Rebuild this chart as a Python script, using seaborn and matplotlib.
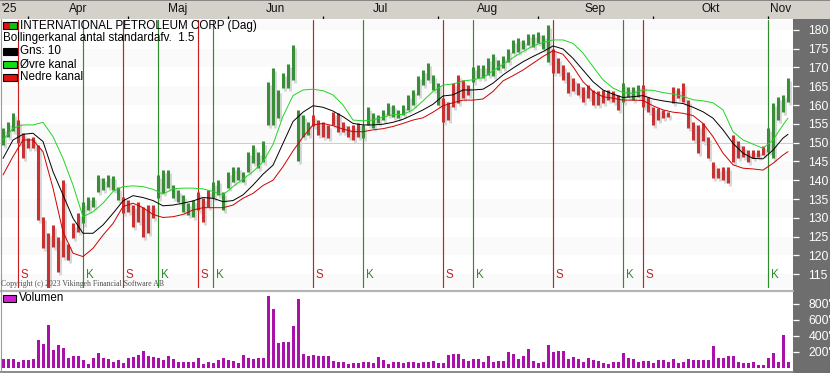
import matplotlib
matplotlib.use("Agg")
import matplotlib.pyplot as plt
import seaborn as sns
import pandas as pd
from matplotlib.patches import Rectangle
from matplotlib.transforms import blended_transform_factory

# ---------------- data ----------------
high = [154.0, 155.5, 158.0, 156.0, 152.5, 151.2, 151.6, 149.4, 130.3, 125.9,
        128.0, 125.0, 140.0, 123.0, 128.5, 131.2, 134.3, 135.6, 135.6, 141.4,
        140.5, 141.4, 141.1, 138.3, 135.6, 134.7, 133.4, 134.3, 133.0, 133.4,
        133.4, 141.4, 142.7, 142.7, 138.7, 137.4, 136.0, 133.9, 134.7, 137.0,
        135.2, 137.4, 139.6, 140.0, 137.0, 142.3, 143.6, 143.6, 142.3, 147.6,
        149.4, 147.6, 150.3, 166.2, 169.8, 164.0, 168.4, 171.0, 176.0, 158.7,
        157.4, 155.6, 157.4, 156.0, 155.6, 154.7, 158.2, 157.8, 155.6, 154.3,
        154.7, 155.1, 154.7, 159.6, 157.8, 157.4, 158.7, 160.5, 160.0, 158.7,
        160.0, 162.7, 164.0, 167.6, 169.3, 171.1, 168.0, 165.8, 161.8, 160.9,
        165.8, 168.0, 166.7, 165.3, 170.2, 170.7, 170.7, 172.4, 173.5, 172.0,
        172.9, 175.0, 177.3, 177.7, 177.3, 179.0, 179.0, 179.5, 178.6, 181.3,
        175.0, 172.4, 170.7, 168.9, 167.1, 165.8, 164.9, 165.3, 164.0, 163.6,
        164.0, 164.0, 163.6, 162.7, 165.8, 164.9, 164.9, 165.3, 165.3, 162.2,
        159.6, 159.1, 158.7, 158.2, 164.9, 164.5, 165.8, 161.3, 155.6, 154.7,
        155.1, 151.6, 144.9, 143.2, 143.6, 143.6, 152.0, 150.3, 149.0, 148.0,
        148.0, 148.0, 149.0, 153.8, 160.5, 162.2, 162.7, 167.1]
low = [149.5, 151.5, 153.0, 150.0, 145.8, 148.5, 148.5, 129.4, 121.9, 110.8,
       122.3, 115.7, 119.7, 118.8, 124.6, 126.3, 128.5, 132.0, 133.0, 137.0,
       137.4, 138.3, 137.4, 134.7, 131.2, 131.6, 127.7, 129.0, 125.0, 125.9,
       129.9, 135.2, 136.5, 137.9, 135.2, 134.3, 131.6, 130.8, 130.3, 132.1,
       129.0, 133.0, 135.2, 136.1, 132.1, 137.9, 139.6, 140.0, 139.6, 142.3,
       144.5, 143.2, 144.9, 154.7, 154.7, 156.5, 164.5, 164.5, 166.7, 145.0,
       151.6, 152.0, 154.3, 152.0, 151.6, 151.2, 154.7, 152.9, 152.9, 151.6,
       150.7, 151.6, 151.2, 154.7, 153.8, 155.1, 156.0, 157.4, 156.9, 156.5,
       157.4, 158.7, 160.0, 162.7, 165.3, 166.7, 164.0, 160.0, 155.6, 156.0,
       159.6, 160.5, 161.8, 162.7, 166.2, 167.1, 167.1, 168.0, 167.6, 169.3,
       169.8, 171.5, 173.8, 174.2, 175.0, 176.0, 175.5, 176.4, 175.0, 171.5,
       168.4, 168.4, 166.7, 163.1, 163.6, 162.7, 160.9, 161.8, 160.0, 160.0,
       160.5, 161.3, 160.9, 158.7, 160.9, 162.2, 161.3, 162.2, 159.6, 158.2,
       154.7, 156.0, 156.5, 156.9, 160.5, 161.8, 160.9, 153.8, 150.7, 147.2,
       150.3, 145.8, 140.5, 140.5, 140.0, 139.2, 144.9, 145.8, 146.3, 144.9,
       145.8, 146.3, 146.7, 147.6, 145.8, 156.0, 158.2, 160.9]
direction = ("GGG" "RRRRRRRRRRRRR" "GGGGGGGG" "RRRRRRR" "GGGGGGGG" "RRR"
             "GGGGGGGGGGGGGGGGGGGG" "RRRRRRRRRR" "GGGGGGGGGGGGGGGG" "RRRRRR"
             "GGGGGGGGGGGGGGGG" "RRRRRRRRRRRRRR" "GGGG"
             "RRRRRRRRRRRRRRRRRRRRRRRRR" "GGGGG")

volume_k = [112, 112, 112, 79, 100, 100, 112, 350, 300, 537,
            225, 287, 250, 125, 146, 154, 100, 50, 125, 187,
            125, 112, 79, 100, 67, 125, 137, 167, 217, 154,
            137, 125, 100, 146, 112, 79, 79, 79, 79, 125,
            50, 79, 58, 100, 125, 100, 92, 58, 167, 125,
            112, 125, 125, 900, 733, 317, 325, 325, 525, 862,
            175, 146, 167, 154, 154, 154, 87, 79, 79, 50,
            58, 67, 75, 79, 67, 137, 100, 50, 75, 75,
            58, 79, 79, 58, 79, 79, 92, 67, 67, 162,
            175, 175, 112, 87, 108, 108, 79, 146, 79, 87,
            87, 204, 175, 108, 150, 237, 87, 67, 79, 287,
            204, 212, 212, 108, 137, 108, 79, 125, 100, 92,
            67, 50, 79, 79, 192, 125, 108, 79, 87, 87,
            67, 100, 100, 79, 108, 58, 79, 108, 100, 100,
            100, 100, 275, 125, 125, 146, 154, 79, 67, 58,
            79, 42, 33, 125, 192, 79, 412, 79]

band_idx = list(range(0, 157, 2)) + [157]
band_mid = [145.8, 150.7, 152.2, 152.5, 150.3, 142.3, 136.1, 129.9, 125.9, 125.9,
            128.1, 131.2, 134.5, 135.9, 135.4, 134.6, 133.2, 133.4, 133.9, 134.5,
            135.4, 135.2, 134.3, 134.6, 136.1, 138.7, 141.6, 144.0, 149.8, 155.6,
            158.1, 159.8, 159.4, 158.4, 156.9, 155.1, 154.7, 154.7, 154.9, 155.4,
            156.2, 157.4, 158.7, 160.2, 162.4, 162.7, 164.0, 164.0, 164.2, 165.8,
            168.0, 169.8, 171.5, 172.9, 174.2, 175.7, 174.9, 172.4, 169.3, 166.2,
            164.0, 162.9, 162.0, 162.2, 162.5, 161.6, 161.1, 160.7, 160.4, 159.4,
            158.2, 156.5, 153.4, 149.8, 147.2, 145.8, 145.7, 148.0, 151.2, 152.2]
band_upper = [150.7, 153.8, 154.7, 154.7, 155.4, 151.6, 145.8, 138.7, 130.3, 131.6,
              133.9, 137.0, 138.3, 138.5, 138.3, 137.6, 136.3, 137.7, 137.9, 137.9,
              137.7, 137.0, 136.1, 138.3, 140.3, 142.3, 144.9, 149.5, 157.0, 162.5,
              164.0, 164.2, 163.8, 162.7, 160.0, 156.0, 155.8, 156.0, 156.8, 157.4,
              157.5, 158.7, 161.1, 163.6, 165.3, 165.6, 166.4, 166.7, 167.3, 169.1,
              170.8, 172.6, 174.2, 175.7, 176.6, 177.3, 177.3, 176.4, 173.8, 170.2,
              166.7, 164.5, 163.3, 163.1, 164.0, 163.9, 163.3, 162.9, 162.3, 161.4,
              161.1, 160.6, 158.7, 152.9, 150.7, 149.6, 148.5, 150.7, 154.7, 156.5]
band_lower = [141.4, 146.3, 150.7, 150.7, 147.6, 137.9, 126.3, 120.6, 119.7, 121.9,
              125.4, 128.5, 133.0, 133.9, 132.7, 130.9, 130.1, 130.3, 130.9, 132.1,
              132.7, 132.7, 132.7, 133.4, 135.2, 136.5, 138.6, 140.0, 143.6, 147.8,
              151.5, 154.7, 155.1, 154.5, 153.6, 152.9, 152.9, 153.4, 153.7, 154.3,
              155.1, 156.0, 156.6, 158.1, 159.8, 160.6, 161.3, 161.3, 161.6, 163.6,
              166.4, 167.8, 169.3, 171.1, 172.9, 174.4, 173.5, 170.2, 166.2, 163.6,
              162.2, 161.8, 161.3, 161.3, 161.2, 159.8, 158.7, 158.1, 157.8, 157.2,
              155.1, 151.6, 147.2, 144.1, 143.2, 143.0, 142.7, 144.5, 146.7, 147.6]

sell_idx = [3, 24, 39, 62, 88, 110, 128]
buy_idx = [16, 31, 42, 72, 94, 124, 153]

months = ["Apr", "Maj", "Jun", "Jul", "Aug", "Sep", "Okt", "Nov"]
month_start = [5, 25, 45, 64, 87, 107, 130, 153]
year_label = "'25"
price_ticks = [115, 120, 125, 130, 135, 140, 145, 150, 155, 160, 165, 170, 175, 180]
vol_ticks = [200, 400, 600, 800]

title = "INTERNATIONAL PETROLEUM CORP (Dag)"
legend_rows = ["Bollingerkanal antal standardafv.  1.5", "Gns: 10", "\u00d8vre kanal", "Nedre kanal"]

# ---------------- style ----------------
sns.set_style("white")
plt.rcParams["font.family"] = ["Liberation Sans", "DejaVu Sans"]

W, H = 830, 373
fig = plt.figure(figsize=(W / 100, H / 100), dpi=100)
fig.patch.set_facecolor("white")


def rect(x0, y0, x1, y1):
    return [x0 / W, 1 - y1 / H, (x1 - x0) / W, (y1 - y0) / H]


n = len(high)
idx = list(range(n))
XL = (-0.6, 158.0)

GREEN_BAR = "#3a8e3a"
RED_BAR = "#c83232"
PANEL = "#6e6e6e"

# right dark panel (under axes)
fig.patches.append(Rectangle((793 / W, 0), 37 / W, 1 - 19 / H, transform=fig.transFigure,
                             facecolor=PANEL, edgecolor="none", zorder=-5))

# ---------------- header ----------------
axh = fig.add_axes(rect(0, 0, 830, 19))
axh.set_facecolor("#d4d1cb")
axh.set_xlim(XL[0], XL[0] + 830 / 5)
axh.set_ylim(0, 1)
axh.set_xticks([]); axh.set_yticks([])
for s in axh.spines.values():
    s.set_visible(False)
axh.axhline(0.98, color="#7a7a7a", lw=1.2)
axh.vlines(month_start, 0, 0.18, color="black", lw=0.9)
centers = [(month_start[i] + (month_start[i + 1] if i + 1 < len(month_start) else n)) / 2
           for i in range(len(month_start))]
for m, c in zip(months, centers):
    axh.text(c, 0.52, m, ha="center", va="center", fontsize=8.6, color="#111111")
axh.text(-0.3, 0.52, year_label, ha="left", va="center", fontsize=8.6, color="#111111")

# ---------------- price panel ----------------
ax = fig.add_axes(rect(0, 20, 793, 288))
ax.set_facecolor("white")
ax.set_xlim(*XL)
ax.set_ylim(111.35, 182.6)
for b in range(110, 185, 10):
    ax.axhspan(b, b + 5, color="#fafafa", lw=0, zorder=0)
ax.axhline(150, color="#cccccc", lw=0.7, zorder=0.5)

for k in sell_idx:
    ax.axvline(k, color="#c81e1e", lw=0.85, zorder=1)
for k in buy_idx:
    ax.axvline(k, color="#2e8b2e", lw=0.85, zorder=1)

trans = blended_transform_factory(ax.transData, ax.transAxes)
for k in sell_idx:
    ax.text(k + 0.55, 0.025, "S", transform=trans, color="#c81e1e", fontsize=8.3,
            ha="left", va="bottom", zorder=6)
for k in buy_idx:
    ax.text(k + 0.55, 0.025, "K", transform=trans, color="#2e8b2e", fontsize=8.3,
            ha="left", va="bottom", zorder=6)

# shadows then bars
ax.vlines([k + 0.45 for k in idx], [l - 0.8 for l in low], [h - 0.8 for h in high],
          color="#d8d8d8", lw=2.2, zorder=2)
colors = [GREEN_BAR if d == "G" else RED_BAR for d in direction]
ax.vlines(idx, low, high, colors=colors, lw=2.2, zorder=3)

bands = pd.DataFrame({"k": band_idx, "mid": band_mid, "up": band_upper, "lo": band_lower})
sns.lineplot(data=bands, x="k", y="up", ax=ax, color="#22d422", lw=0.7, estimator=None, zorder=4)
sns.lineplot(data=bands, x="k", y="mid", ax=ax, color="black", lw=0.7, estimator=None, zorder=4)
sns.lineplot(data=bands, x="k", y="lo", ax=ax, color="#cc0000", lw=0.7, estimator=None, zorder=4)

ax.set_xlabel(""); ax.set_ylabel("")
ax.set_xticks([])
ax.yaxis.tick_right()
ax.set_yticks(price_ticks)
ax.set_yticklabels([str(t) for t in price_ticks])
ax.tick_params(axis="y", which="both", right=True, left=False, colors="white",
               labelcolor="white", length=4, width=0.9, pad=7, labelsize=8.8, direction="out")
for s in ax.spines.values():
    s.set_visible(False)

# ---------------- volume panel ----------------
axv = fig.add_axes(rect(0, 292, 793, 370))
axv.set_facecolor("white")
vol_df = pd.DataFrame({"k": idx, "v": volume_k})
sns.barplot(data=vol_df, x="k", y="v", ax=axv, native_scale=True, width=0.6,
            color="#a812a8", saturation=1, errorbar=None, linewidth=0)
axv.set_xlim(*XL)
axv.set_ylim(-25, 950)
axv.set_xlabel(""); axv.set_ylabel("")
axv.set_xticks([])
axv.yaxis.tick_right()
axv.set_yticks(vol_ticks)
axv.set_yticklabels([f"{t}'" for t in vol_ticks])
axv.tick_params(axis="y", which="both", right=True, left=False, colors="white",
                labelcolor="white", length=4, width=0.9, pad=7, labelsize=8.8, direction="out")
for s in axv.spines.values():
    s.set_visible(False)

# ---------------- overlay (legend, borders, copyright) ----------------
ov = fig.add_axes([0, 0, 1, 1], zorder=10)
ov.set_xlim(0, W); ov.set_ylim(H, 0)
ov.axis("off")
ov.patch.set_alpha(0)

ov.plot([0, 793], [290.5, 290.5], color="#b4b4b4", lw=1.6)
ov.plot([0, 793], [371.8, 371.8], color="#8a8a8a", lw=1.4)
ov.plot([0.5, 0.5], [19, 373], color="#9a9a9a", lw=0.8)

FS = 8.4
# row 1: two-tone icon
ov.add_patch(Rectangle((3, 22), 7, 7, facecolor="#e01010", edgecolor="none"))
ov.add_patch(Rectangle((10, 22), 7, 7, facecolor="#10c010", edgecolor="none"))
ov.add_patch(Rectangle((3, 22), 14, 7, facecolor="none", edgecolor="black", lw=0.8))
ov.text(19.5, 25.5, title, fontsize=FS, va="center", ha="left", color="black")
ov.text(3, 38.5, legend_rows[0], fontsize=FS, va="center", ha="left", color="black")
icon_cols = ["black", "#10e010", "#e01010"]
for i, (lab, col) in enumerate(zip(legend_rows[1:], icon_cols)):
    y = 51.5 + 13 * i
    ov.add_patch(Rectangle((3, y - 3.5), 14, 7, facecolor=col, edgecolor="black", lw=0.8))
    ov.text(19.5, y, lab, fontsize=FS, va="center", ha="left", color="black")

ov.add_patch(Rectangle((3, 294.5), 13, 7, facecolor="#d020d0", edgecolor="black", lw=0.8))
ov.text(19, 298, "Volumen", fontsize=FS, va="center", ha="left", color="black")

ov.text(1, 284.5, "Copyright (c) 2023 Vikingeh Financial Software AB", fontsize=5.6,
        family=["Liberation Serif", "DejaVu Serif"], color="#505050", va="center", ha="left")

fig.savefig("out.png", dpi=100)
